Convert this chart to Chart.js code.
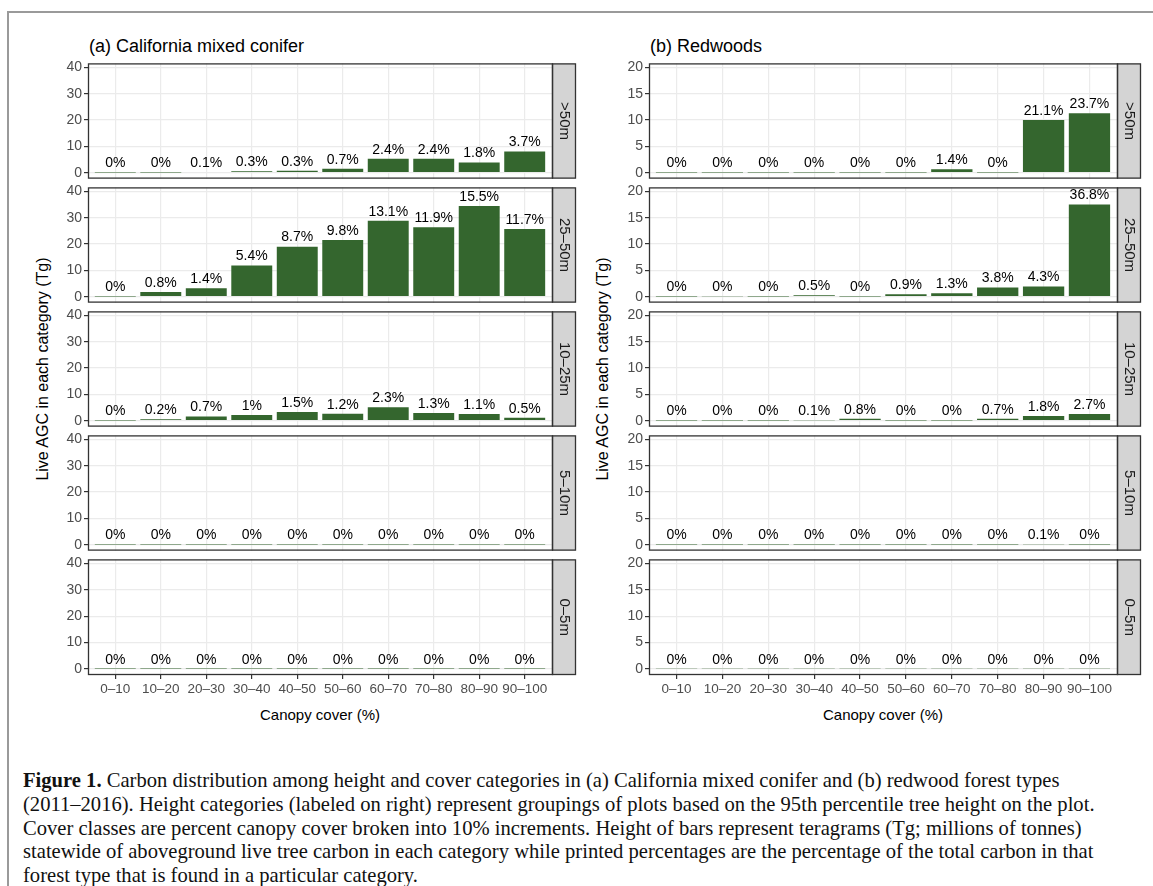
<!DOCTYPE html>
<html lang="en">
<head>
<meta charset="UTF-8">
<title>Figure 1 - Carbon distribution</title>
<script src="https://cdn.jsdelivr.net/npm/chart.js"></script>
<style>
  body { margin: 0; background: #fff; }
  #figura { position: relative; width: 1153px; height: 886px; overflow: hidden; font-family: "Liberation Sans", Arial, sans-serif; }
  .moldura { position: absolute; left: 7px; top: 11px; width: 1160px; height: 900px; border-top: 2px solid #9a9a9a; border-left: 2px solid #9a9a9a; }
  .painel { position: absolute; }
  .titulo { position: absolute; font-size: 18px; color: #000; line-height: 20px; white-space: nowrap; }
  .eixo-x { position: absolute; font-size: 15px; color: #000; line-height: 18px; white-space: nowrap; transform: translateX(-50%); }
  .eixo-y { position: absolute; font-size: 16px; color: #000; line-height: 18px; white-space: nowrap; transform: translate(-50%, -50%) rotate(-90deg); }
  .legenda { position: absolute; left: 23px; top: 769px; font-family: "Liberation Serif", serif; font-size: 20.6px; line-height: 23.8px; color: #111; white-space: nowrap; }
</style>
</head>
<body>
<div id="figura">
  <div class="moldura"></div>
  <div class="titulo" style="left:89px; top:36px">(a) California mixed conifer</div>
  <div class="titulo" style="left:650px; top:36px">(b) Redwoods</div>
  <div class="eixo-y" style="left:43px; top:369px">Live AGC in each category (Tg)</div>
  <div class="eixo-y" style="left:603px; top:369px">Live AGC in each category (Tg)</div>
  <div class="eixo-x" style="left:320px; top:706px">Canopy cover (%)</div>
  <div class="eixo-x" style="left:883px; top:706px">Canopy cover (%)</div>
  <div id="paineis"></div>
  <div class="legenda">
    <b>Figure 1.</b> Carbon distribution among height and cover categories in (a) California mixed conifer and (b) redwood forest types<br>
    (2011–2016). Height categories (labeled on right) represent groupings of plots based on the 95th percentile tree height on the plot.<br>
    Cover classes are percent canopy cover broken into 10% increments. Height of bars represent teragrams (Tg; millions of tonnes)<br>
    statewide of aboveground live tree carbon in each category while printed percentages are the percentage of the total carbon in that<br>
    forest type that is found in a particular category.
  </div>
</div>

<script>
    // classes de cobertura e de altura
    const coberturas = ["0–10", "10–20", "20–30", "30–40", "40–50", "50–60", "60–70", "70–80", "80–90", "90–100"];
    const alturas = [">50m", "25–50m", "10–25m", "5–10m", "0–5m"];

    const ticksConifer = [0, 10, 20, 30, 40];
    const ticksRedwood = [0, 5, 10, 15, 20];

    // (a) California mixed conifer, Tg por classe de cobertura
    const cmcAcima50 = [0.08, 0.1, 0.25, 0.55, 0.75, 1.5, 5.3, 5.3, 3.9, 8.0];
    const cmc25a50 = [0.1, 1.8, 3.2, 11.8, 19.0, 21.5, 28.8, 26.4, 34.4, 25.7];
    const cmc10a25 = [0.08, 0.5, 1.6, 2.1, 3.3, 2.6, 5.1, 2.9, 2.5, 1.1];
    const cmc5a10 = [0.1, 0.1, 0.1, 0.1, 0.1, 0.1, 0.05, 0.05, 0.05, 0.1];
    const cmc0a5 = [0.04, 0.04, 0.04, 0.04, 0.04, 0.04, 0.04, 0.04, 0.04, 0.04];

    const cmcPctAcima50 = ["0%", "0%", "0.1%", "0.3%", "0.3%", "0.7%", "2.4%", "2.4%", "1.8%", "3.7%"];
    const cmcPct25a50 = ["0%", "0.8%", "1.4%", "5.4%", "8.7%", "9.8%", "13.1%", "11.9%", "15.5%", "11.7%"];
    const cmcPct10a25 = ["0%", "0.2%", "0.7%", "1%", "1.5%", "1.2%", "2.3%", "1.3%", "1.1%", "0.5%"];
    const cmcPct5a10 = ["0%", "0%", "0%", "0%", "0%", "0%", "0%", "0%", "0%", "0%"];
    const cmcPct0a5 = ["0%", "0%", "0%", "0%", "0%", "0%", "0%", "0%", "0%", "0%"];

    // (b) Redwoods, Tg por classe de cobertura
    const rwAcima50 = [0.03, 0.03, 0.03, 0.03, 0.03, 0.03, 0.65, 0.03, 10.0, 11.3];
    const rw25a50 = [0.03, 0.08, 0.03, 0.25, 0.03, 0.44, 0.63, 1.75, 1.95, 17.5];
    const rw10a25 = [0.03, 0.03, 0.03, 0.06, 0.38, 0.03, 0.03, 0.35, 0.88, 1.27];
    const rw5a10 = [0.03, 0.03, 0.03, 0.03, 0.03, 0.03, 0.03, 0.03, 0.06, 0.03];
    const rw0a5 = [0.03, 0.03, 0.03, 0.03, 0.03, 0.03, 0.03, 0.03, 0.03, 0.03];

    const rwPctAcima50 = ["0%", "0%", "0%", "0%", "0%", "0%", "1.4%", "0%", "21.1%", "23.7%"];
    const rwPct25a50 = ["0%", "0%", "0%", "0.5%", "0%", "0.9%", "1.3%", "3.8%", "4.3%", "36.8%"];
    const rwPct10a25 = ["0%", "0%", "0%", "0.1%", "0.8%", "0%", "0%", "0.7%", "1.8%", "2.7%"];
    const rwPct5a10 = ["0%", "0%", "0%", "0%", "0%", "0%", "0%", "0%", "0.1%", "0%"];
    const rwPct0a5 = ["0%", "0%", "0%", "0%", "0%", "0%", "0%", "0%", "0%", "0%"];

    const VERDE = "#34662e";
    const FONTE = '"Liberation Sans", Arial, sans-serif';
    const topos = [63, 187, 311, 435, 559];
    const ALTURA_PAINEL = 116;
    const MARGEM_Y = 48;

    // texto acima de cada barra
    const rotulosBarras = {
        id: "rotulosBarras",
        afterDatasetsDraw(chart, args, opts) {
            const ctx = chart.ctx;
            const meta = chart.getDatasetMeta(0);
            ctx.save();
            ctx.font = "14px " + FONTE;
            ctx.fillStyle = "#000";
            ctx.textAlign = "center";
            ctx.textBaseline = "bottom";
            meta.data.forEach((barra, i) => ctx.fillText(opts.textos[i], barra.x, barra.y - 2));
            ctx.restore();
        }
    };

    // borda do painel e faixa cinza com a classe de altura
    const faixaLateral = {
        id: "faixaLateral",
        afterDraw(chart, args, opts) {
            const ctx = chart.ctx;
            const a = chart.chartArea;
            const h = a.bottom - a.top;
            ctx.save();
            ctx.fillStyle = "#d4d4d4";
            ctx.fillRect(a.right, a.top, 24, h);
            ctx.strokeStyle = "#333";
            ctx.lineWidth = 1.3;
            ctx.strokeRect(a.right + 0.5, a.top + 0.5, 23, h - 1);
            ctx.strokeRect(a.left + 0.5, a.top + 0.5, a.right - a.left, h - 1);
            ctx.translate(a.right + 12, a.top + h / 2);
            ctx.rotate(Math.PI / 2);
            ctx.fillStyle = "#1a1a1a";
            ctx.font = "15px " + FONTE;
            ctx.textAlign = "center";
            ctx.textBaseline = "middle";
            ctx.fillText(opts.texto, 0, 0);
            ctx.restore();
        }
    };

    function criarPainel(esquerda, largura, linha, valores, textos, ticksY, minY, maxY) {
        const ultima = linha === alturas.length - 1;
        const div = document.createElement("div");
        div.className = "painel";
        div.style.left = (esquerda - MARGEM_Y) + "px";
        div.style.top = (topos[linha] - 10) + "px";
        div.style.width = (MARGEM_Y + largura + 26) + "px";
        div.style.height = (10 + ALTURA_PAINEL + (ultima ? 24 : 10)) + "px";
        const canvas = document.createElement("canvas");
        div.appendChild(canvas);
        document.getElementById("paineis").appendChild(div);

        // linhas de grade menores entre os ticks principais
        const passo = ticksY[1] - ticksY[0];
        const marcas = [];
        ticksY.forEach(v => {
            marcas.push({ value: v, menor: false });
            if (v + passo / 2 < maxY) marcas.push({ value: v + passo / 2, menor: true });
        });

        new Chart(canvas, {
            type: "bar",
            data: {
                datasets: [{
                    data: valores.map((v, i) => ({ x: i + 1, y: v })),
                    backgroundColor: VERDE,
                    borderWidth: 0,
                    categoryPercentage: 1,
                    barPercentage: 0.9
                }]
            },
            options: {
                responsive: true,
                maintainAspectRatio: false,
                animation: false,
                events: [],
                layout: { padding: { left: 0, right: 26, top: 10, bottom: ultima ? 0 : 10 } },
                plugins: {
                    legend: { display: false },
                    tooltip: { enabled: false },
                    rotulosBarras: { textos: textos },
                    faixaLateral: { texto: alturas[linha] }
                },
                scales: {
                    x: {
                        type: "linear",
                        min: 0.4,
                        max: 10.6,
                        offset: false,
                        afterBuildTicks: s => { s.ticks = coberturas.map((c, i) => ({ value: i + 1 })); },
                        afterFit: s => { s.height = ultima ? 24 : 0; },
                        ticks: {
                            display: ultima,
                            autoSkip: false,
                            maxRotation: 0,
                            padding: 2,
                            color: "#4d4d4d",
                            font: { family: FONTE, size: 13.5 },
                            callback: v => coberturas[v - 1]
                        },
                        grid: { offset: false, color: "#ebebeb", lineWidth: 1.2, drawTicks: ultima, tickLength: 4, tickColor: "#333" },
                        border: { display: false }
                    },
                    y: {
                        min: minY,
                        max: maxY,
                        afterBuildTicks: s => { s.ticks = marcas.map(m => ({ value: m.value, menor: m.menor })); },
                        afterFit: s => { s.width = MARGEM_Y; },
                        ticks: {
                            padding: 2,
                            color: "#4d4d4d",
                            font: { family: FONTE, size: 14 },
                            callback: (v, i, t) => t[i].menor ? "" : v
                        },
                        grid: {
                            color: "#ebebeb",
                            lineWidth: c => c.tick && c.tick.menor ? 0.8 : 1.2,
                            tickLength: 4,
                            tickColor: c => c.tick && c.tick.menor ? "rgba(0,0,0,0)" : "#333"
                        },
                        border: { display: false }
                    }
                }
            },
            plugins: [rotulosBarras, faixaLateral]
        });
    }

    const colunaA = [cmcAcima50, cmc25a50, cmc10a25, cmc5a10, cmc0a5];
    const textosA = [cmcPctAcima50, cmcPct25a50, cmcPct10a25, cmcPct5a10, cmcPct0a5];
    const colunaB = [rwAcima50, rw25a50, rw10a25, rw5a10, rw0a5];
    const textosB = [rwPctAcima50, rwPct25a50, rwPct10a25, rwPct5a10, rwPct0a5];

    colunaA.forEach((valores, i) => criarPainel(88, 464, i, valores, textosA[i], ticksConifer, -2.26, 41.5));
    colunaB.forEach((valores, i) => criarPainel(649, 468, i, valores, textosB[i], ticksRedwood, -1.13, 20.75));
</script>
</body>
</html>
